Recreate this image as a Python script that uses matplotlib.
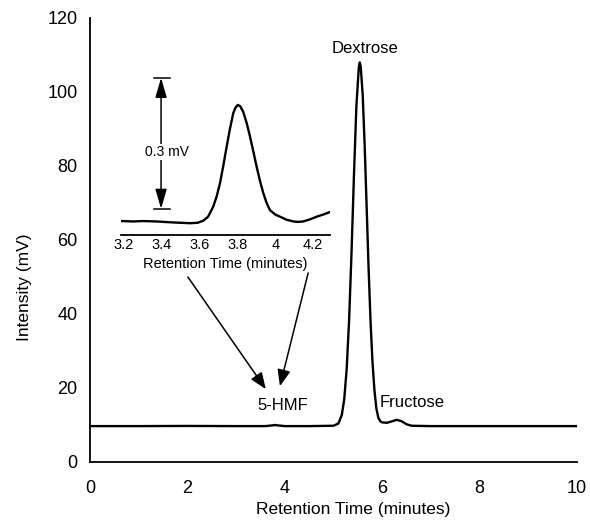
import numpy as np
import matplotlib.pyplot as plt

plt.rcParams['font.family'] = ['Liberation Sans', 'DejaVu Sans']

# cromatograma completo (min, mV)
t_main = [0, 1, 2, 3, 3.6, 3.75, 3.8, 3.85, 4.0, 4.5, 5.0, 5.1, 5.17, 5.22, 5.27,
          5.32, 5.37, 5.42, 5.47, 5.52, 5.54, 5.56, 5.6, 5.64, 5.68, 5.72, 5.76,
          5.8, 5.84, 5.88, 5.92, 5.96, 6.0, 6.1, 6.2, 6.3, 6.4, 6.5, 6.6, 7, 8, 9, 10]
i_main = [9.7, 9.7, 9.75, 9.7, 9.7, 9.9, 10.0, 9.9, 9.7, 9.7, 9.8, 10.4, 12.7, 16.9, 25.0,
          38.2, 56.6, 77.5, 96.2, 106.7, 108.0, 106.7, 99.1, 85.6, 69.2, 52.6, 38.2,
          27.2, 19.5, 14.5, 12.0, 11.0, 10.7, 10.6, 11.0, 11.4, 11.0, 10.2, 9.8, 9.7, 9.7, 9.7, 9.7]

# detalle del pico 5-HMF
t_zoom = [3.184, 3.25, 3.30, 3.373, 3.45, 3.50, 3.549, 3.59, 3.620, 3.645, 3.672, 3.69,
          3.708, 3.725, 3.743, 3.76, 3.778, 3.79, 3.802, 3.815, 3.831, 3.85, 3.867, 3.885,
          3.902, 3.92, 3.937, 3.955, 3.972, 4.0, 4.025, 4.06, 4.096, 4.12, 4.148, 4.185,
          4.220, 4.255, 4.286]
i_zoom = [9.702, 9.701, 9.702, 9.701, 9.699, 9.698, 9.697, 9.698, 9.703, 9.712, 9.735, 9.758,
          9.789, 9.828, 9.872, 9.912, 9.949, 9.962, 9.968, 9.965, 9.952, 9.925, 9.895, 9.860,
          9.826, 9.793, 9.766, 9.743, 9.727, 9.717, 9.712, 9.705, 9.701, 9.700, 9.701, 9.706,
          9.712, 9.717, 9.722]

fig = plt.figure(figsize=(5.9, 5.2), dpi=100)
W, H = 590, 520

ax = fig.add_axes([90 / W, 1 - 462 / H, 487 / W, 444 / H])
ax.plot(t_main, i_main, c='k', lw=1.7, solid_joinstyle='round')
ax.set_xlim(0, 10)
ax.set_ylim(0, 120)
ax.set_xticks(range(0, 11, 2))
ax.set_yticks(range(0, 121, 20))
ax.tick_params(length=0, labelsize=13)
ax.tick_params(axis='y', pad=9)
ax.tick_params(axis='x', pad=13)
for s in ['top', 'right']:
    ax.spines[s].set_visible(False)
for s in ['left', 'bottom']:
    ax.spines[s].set_linewidth(1.3)
ax.set_xlabel('Retention Time (minutes)', fontsize=12.5)
ax.set_ylabel('Intensity (mV)', fontsize=12.5)
ax.xaxis.set_label_coords(0.54, -0.089)
ax.yaxis.set_label_coords(-0.12, 0.394)

ax.text(5.64, 111.7, 'Dextrose', ha='center', va='center', fontsize=12)
ax.text(5.95, 16, 'Fructose', ha='left', va='center', fontsize=12)
ax.text(3.95, 15.2, '5-HMF', ha='center', va='center', fontsize=12)

ap = dict(arrowstyle='-|>,head_length=1.0,head_width=0.4', color='k', lw=1.1,
          shrinkA=0, shrinkB=0)
ax.annotate('', xy=(3.61, 19.7), xytext=(2.01, 50.0), arrowprops=ap)
ax.annotate('', xy=(3.90, 20.5), xytext=(4.48, 51.1), arrowprops=ap)

# recuadro
ins = fig.add_axes([121 / W, 1 - 235 / H, 209 / W, 165 / H])
ins.patch.set_alpha(0)
ins.plot(t_zoom, i_zoom, c='k', lw=1.7, solid_joinstyle='round')
ins.set_xlim(3.184, 4.29)
ins.set_ylim(9.670, 10.048)
ins.set_xticks([3.2, 3.4, 3.6, 3.8, 4.0, 4.2])
ins.set_xticklabels(['3.2', '3.4', '3.6', '3.8', '4', '4.2'])
ins.set_yticks([])
ins.tick_params(length=0, labelsize=10.5, pad=2.5)
for s in ['top', 'right', 'left']:
    ins.spines[s].set_visible(False)
ins.spines['bottom'].set_linewidth(1.3)
ins.set_xlabel('Retention Time (minutes)', fontsize=10.5, labelpad=3)

dp = dict(arrowstyle='<|-|>,head_length=1.2,head_width=0.35', color='k', lw=1.1,
          shrinkA=0, shrinkB=0)
ins.annotate('', xy=(3.396, 10.03), xytext=(3.396, 9.73), arrowprops=dp)
ins.plot([3.359, 3.443], [10.03, 10.03], c='k', lw=1.1)
ins.plot([3.359, 3.443], [9.73, 9.73], c='k', lw=1.1)
ins.text(3.428, 9.86, '0.3 mV', ha='center', va='center', fontsize=10,
         bbox=dict(fc='white', ec='none', pad=0.5))

fig.savefig('out.png', dpi=100)
